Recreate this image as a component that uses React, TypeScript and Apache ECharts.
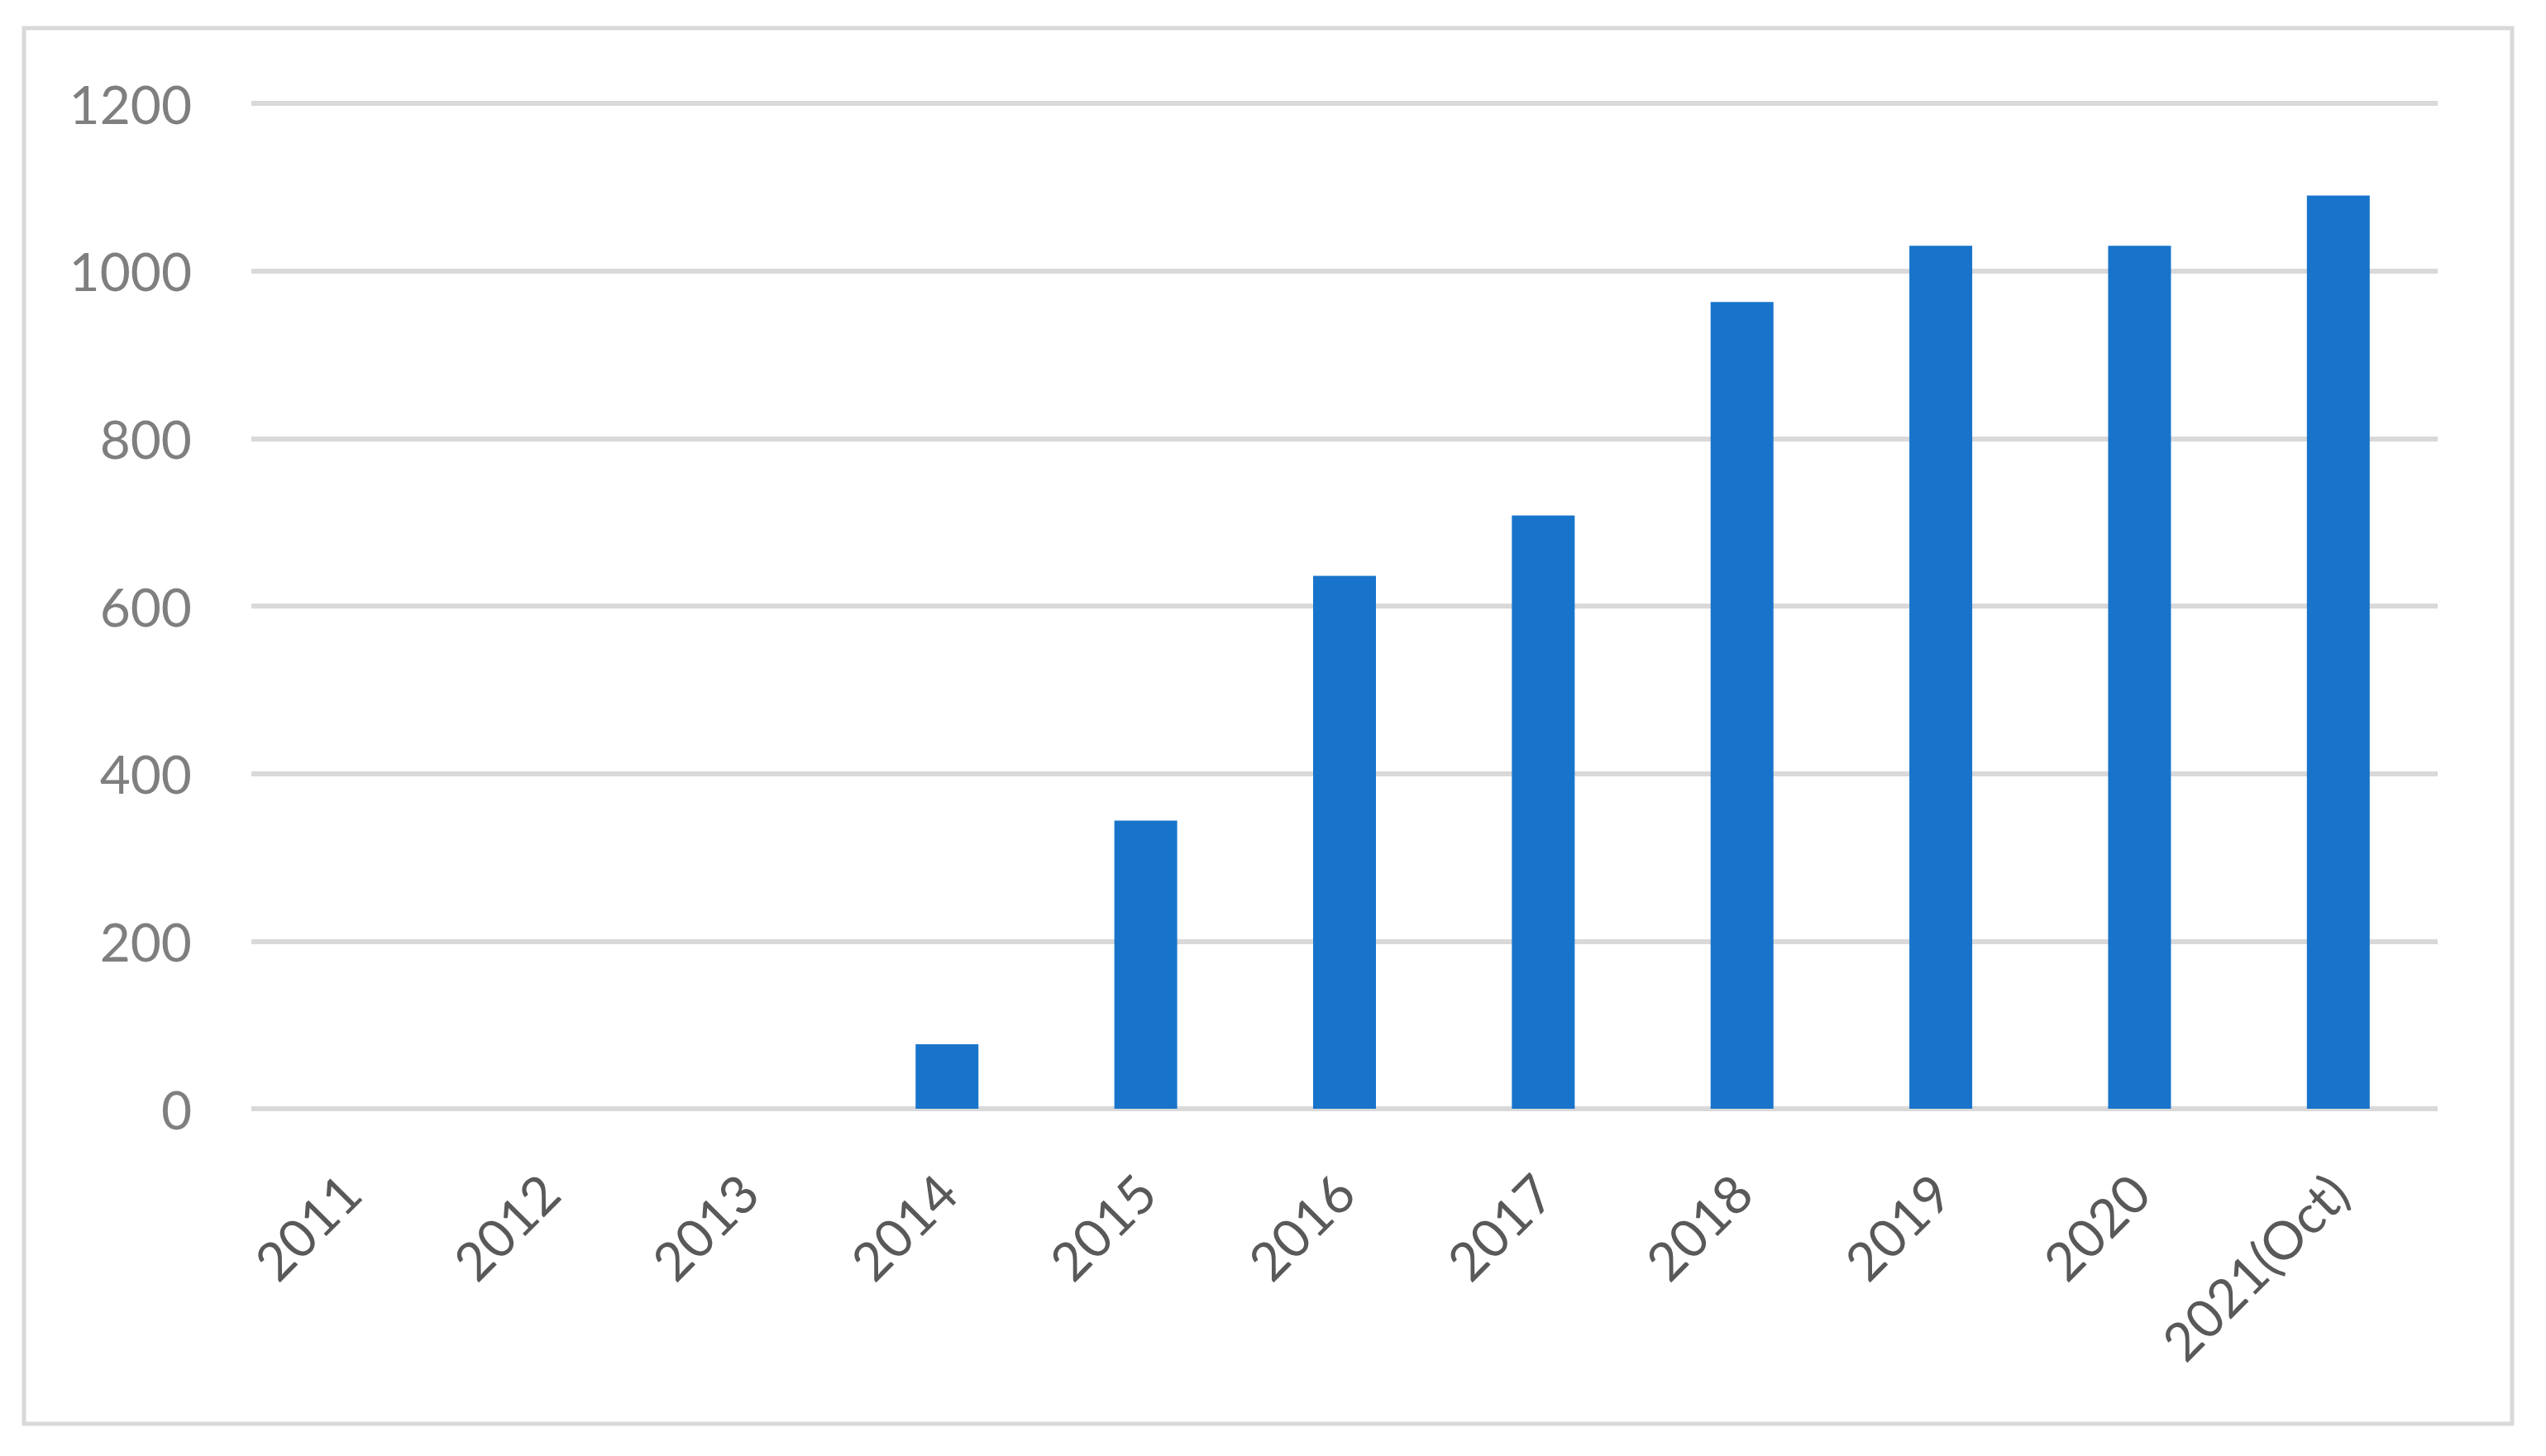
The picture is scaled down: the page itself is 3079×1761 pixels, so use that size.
import React, { useEffect, useRef } from "react";
import * as echarts from "echarts";

const categories = ["2011", "2012", "2013", "2014", "2015", "2016", "2017", "2018", "2019", "2020", "2021(Oct)"];
const values = [0, 0, 0, 77, 344, 636, 708, 963, 1030, 1030, 1090];
const yMin = 0;
const yMax = 1200;
const yInterval = 200;

export default function App() {
  const ref = useRef<HTMLDivElement>(null);
  useEffect(() => {
    if (!ref.current) return;
    const chart = echarts.init(ref.current, null, { renderer: "svg" });
    chart.setOption({
      animation: false,
      backgroundColor: "#ffffff",
      grid: { left: 304, right: 131, top: 125, bottom: 420, containLabel: false },
      graphic: [
        {
          type: "rect",
          shape: { x: 29, y: 34, width: 3009, height: 1688 },
          style: { fill: "none", stroke: "#d9d9d9", lineWidth: 5 },
          silent: true,
        },
      ],
      xAxis: {
        type: "category",
        data: categories,
        axisLine: { show: false },
        axisTick: { show: false },
        axisLabel: {
          rotate: 45,
          interval: 0,
          margin: 90,
          color: "#595959",
          fontSize: 64,
          fontFamily: "Lato",
        },
      },
      yAxis: {
        type: "value",
        min: yMin,
        max: yMax,
        interval: yInterval,
        axisLine: { show: false },
        axisTick: { show: false },
        splitLine: { show: true, lineStyle: { color: "#d9d9d9", width: 6 } },
        axisLabel: {
          margin: 72,
          color: "#7f7f7f",
          fontSize: 64,
          fontFamily: "Lato",
          formatter: (v: number) => String(v),
        },
      },
      series: [
        {
          type: "bar",
          data: values,
          barWidth: 76,
          itemStyle: { color: "#1874cb" },
        },
      ],
    });
    return () => chart.dispose();
  }, []);
  return (
    <div
      ref={ref}
      style={{ position: "fixed", left: 0, top: 0, width: 3079, height: 1761, background: "#fff" }}
    />
  );
}
